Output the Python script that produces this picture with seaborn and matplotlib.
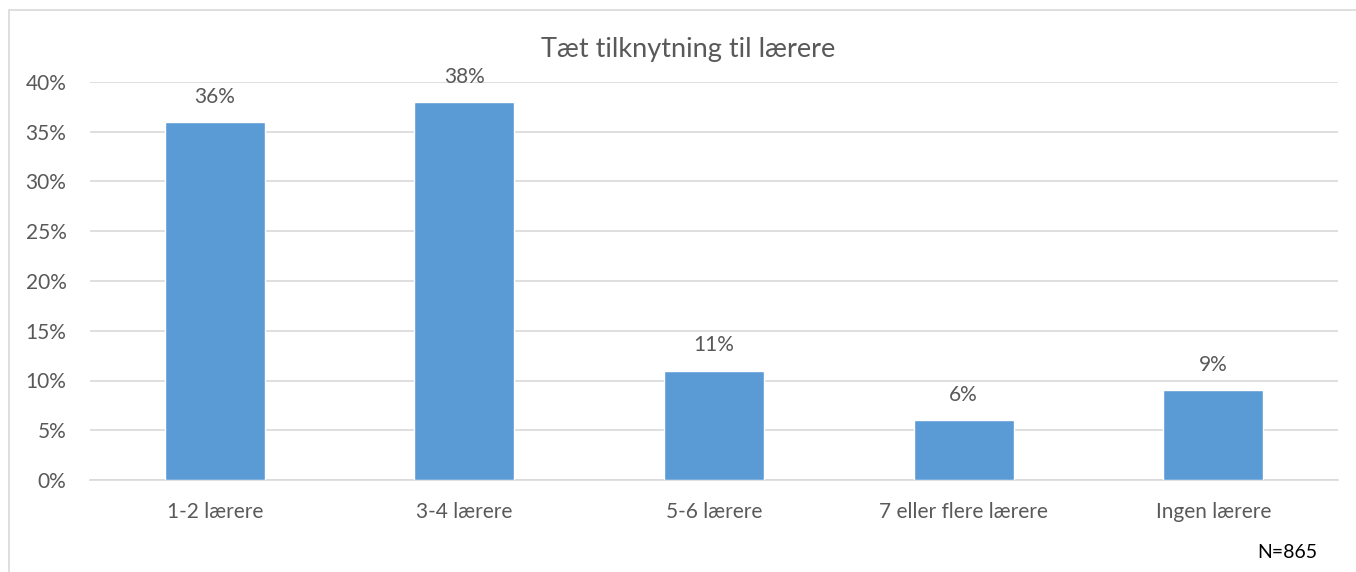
import matplotlib
matplotlib.use("Agg")
import matplotlib.pyplot as plt
import seaborn as sns
import pandas as pd
from matplotlib.patches import Rectangle

categories = ["1-2 lærere", "3-4 lærere", "5-6 lærere", "7 eller flere lærere", "Ingen lærere"]
values = [36, 38, 11, 6, 9]
yticks = [0, 5, 10, 15, 20, 25, 30, 35, 40]

sns.set_theme(style="white")
plt.rcParams['font.family'] = ['Lato', 'DejaVu Sans']
text_col = "#595959"
grid_col = "#D9D9D9"

df = pd.DataFrame({"cat": categories, "val": values})

fig = plt.figure(figsize=(13.56, 5.72), dpi=100)
ax = fig.add_axes([90/1356, 1-480/572, (1338-90)/1356, (480-82)/572])

sns.barplot(data=df, x="cat", y="val", color="#5B9BD5", width=0.4, saturation=1, ax=ax, zorder=3)

ax.set_xlim(-0.5, 4.5)
ax.set_ylim(0, 40)
ax.set_yticks(yticks)
ax.set_yticklabels([f"{t}%" for t in yticks])
ax.yaxis.grid(True, color=grid_col, linewidth=1.2, zorder=0)
ax.set_axisbelow(True)
for s in ["top", "right", "left"]:
    ax.spines[s].set_visible(False)
ax.spines["bottom"].set_color(grid_col)
ax.spines["bottom"].set_linewidth(1.2)
ax.tick_params(axis="both", length=0, labelsize=15, labelcolor=text_col)
ax.tick_params(axis="y", pad=17)
ax.tick_params(axis="x", pad=16)
ax.set_xlabel("")
ax.set_ylabel("")

for i, v in enumerate(values):
    ax.annotate(f"{v}%", (i, v), xytext=(0, 11), textcoords="offset points",
                ha="center", va="bottom", fontsize=15, color=text_col)

fig.text(688/1356, 1 - 50/572, "Tæt tilknytning til lærere",
         ha="center", va="center", fontsize=19.5, color=text_col)
fig.text(1287/1356, 1 - 552/572, "N=865", ha="center", va="center", fontsize=14, color="black")

fig.patches.append(Rectangle((9/1356, -0.1), 1.2, 1 - 10/572 + 0.1, transform=fig.transFigure,
                             fill=False, edgecolor=grid_col, linewidth=1.2, figure=fig))

fig.savefig("out.png", dpi=100)
